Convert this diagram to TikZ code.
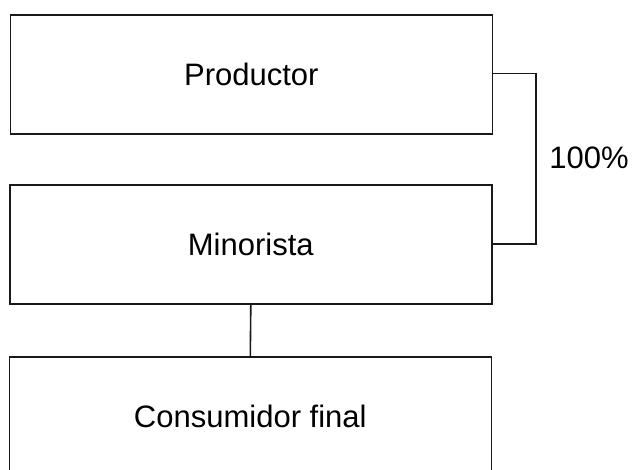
\documentclass[tikz,border=0pt]{standalone}
\usepackage{fontspec}
\setmainfont{Liberation Sans}
\begin{document}
\begin{tikzpicture}[x=1pt,y=-1pt,
  box/.style={draw=black!90, line width=1.6pt, rectangle, minimum width=482pt, minimum height=119pt, inner sep=0pt, font=\fontsize{31}{37}\selectfont, anchor=north west},
  link/.style={draw=black!90, line width=1.6pt}]
\useasboundingbox (0,0) rectangle (632,470);
\node[box] (prod) at (9.5,14) {Productor};
\node[box] (mino) at (9,184.5) {Minorista};
\node[box] (cons) at (8.5,356) {Consumidor final};
\coordinate (c1) at (536,73.5);
\coordinate (c2) at (536,244);
\draw[link] (prod.east |- c1) -- (c1) -- (c2) -- (mino.east |- c2);
\node[font=\fontsize{31}{37}\selectfont, anchor=center] (pct) at (589,157.5) {100\%};
\draw[link] (mino.south) -- (cons.north);
\end{tikzpicture}
\end{document}
